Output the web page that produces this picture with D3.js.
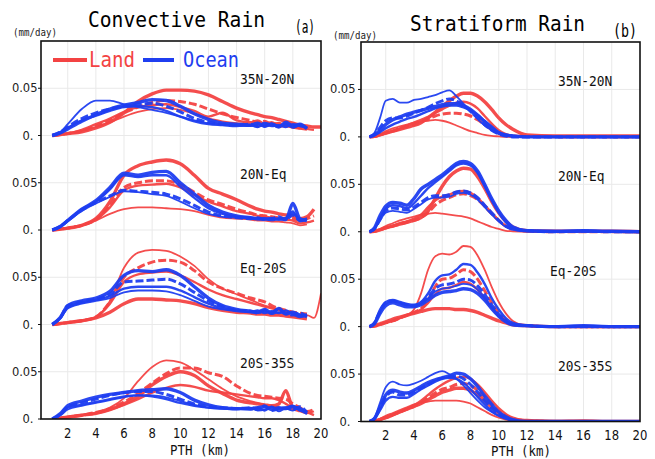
<!DOCTYPE html>
<html><head><meta charset="utf-8">
<script src="https://cdn.jsdelivr.net/npm/d3@7"></script>
<style>body{margin:0;background:#fff}svg{display:block}</style>
</head><body><svg id="c" width="655" height="459"></svg>
<script>
// ---------------- DATA ----------------
const regions = ["35N-20N", "20N-Eq", "Eq-20S", "20S-35S"];
const xTickLabels = [2, 4, 6, 8, 10, 12, 14, 16, 18, 20];
const yTickLabels = ["0.", "0.05"];
const legendLabels = ["Land", "Ocean"];

// PTH grid (km) for convective profiles
const xConv = [0.9,1.5,2,3,4,5,6,7,8,9,10,11,12,13,14,15,15.5,16,16.5,17,17.5,18,18.5,19,19.5,20];
// PTH grid (km) for stratiform profiles
const xStrat = [0.85,1.2,1.6,2,2.5,3,3.5,4,4.5,5,5.5,6,6.5,7,7.5,8,8.5,9,9.5,10,10.5,11,12,14,16,18,20];

// Convective, land
const convLand35N20N = [
 [0,0.001,0.002,0.004,0.008,0.014,0.024,0.036,0.044,0.048,0.048,0.047,0.043,0.036,0.029,0.024,0.022,0.02,0.019,0.017,0.015,0.013,0.011,0.01,0.009,0.009],
 [0,0.001,0.002,0.005,0.01,0.016,0.024,0.03,0.035,0.037,0.036,0.033,0.028,0.023,0.019,0.016,0.014,0.015,0.012,0.013,0.01,0.011,0.008,0.009,null,null],
 [0,0.001,0.002,0.006,0.012,0.018,0.025,0.03,0.032,0.033,0.03,0.026,0.02,0.024,0.016,0.014,0.016,0.012,0.014,0.011,0.012,0.01,0.009,0.007,0.006,null],
 [0,0.001,0.002,0.005,0.009,0.014,0.02,0.025,0.028,0.029,0.027,0.023,0.018,0.015,0.013,0.012,0.011,0.01,0.011,0.009,0.01,0.008,0.007,0.006,null,null]
];
const convLand20NEq = [
 [0,0.001,0.002,0.005,0.012,0.03,0.058,0.068,0.072,0.074,0.07,0.058,0.044,0.038,0.032,0.025,0.022,0.02,0.019,0.017,0.016,0.015,0.012,0.014,0.022,null],
 [0,0.001,0.002,0.005,0.011,0.026,0.045,0.05,0.052,0.052,0.048,0.04,0.032,0.027,0.022,0.018,0.016,0.015,0.014,0.013,0.012,0.012,0.01,0.012,0.015,null],
 [0,0.001,0.002,0.005,0.011,0.024,0.042,0.047,0.048,0.049,0.045,0.037,0.03,0.025,0.02,0.017,0.015,0.014,0.013,0.012,0.011,0.01,0.007,0.008,0.01,null],
 [0,0.001,0.002,0.005,0.01,0.017,0.022,0.024,0.024,0.023,0.022,0.02,0.016,0.013,0.012,0.011,0.01,0.01,0.009,0.009,0.008,0.007,0.005,0.006,null,null]
];
const convLandEq20S = [
 [0,0.001,0.002,0.004,0.007,0.013,0.022,0.027,0.027,0.026,0.025,0.022,0.018,0.015,0.013,0.012,0.011,0.011,0.01,0.01,0.009,0.008,0.007,0.006,null,null],
 [0,0.001,0.002,0.004,0.008,0.024,0.05,0.06,0.066,0.068,0.066,0.057,0.045,0.038,0.033,0.028,0.026,0.024,0.02,0.017,0.015,0.013,0.012,0.011,null,null],
 [0,0.001,0.002,0.004,0.008,0.022,0.045,0.053,0.055,0.056,0.052,0.045,0.037,0.031,0.027,0.023,0.021,0.019,0.017,0.015,0.014,0.012,0.01,0.009,null,null],
 [0,0.001,0.002,0.004,0.008,0.025,0.06,0.076,0.079,0.078,0.072,0.062,0.048,0.038,0.032,0.026,0.023,0.02,0.018,0.016,0.014,0.013,0.01,0.01,0.007,0.033]
];
const convLand20S35S = [
 [0,0.001,0.002,0.004,0.006,0.01,0.016,0.024,0.036,0.045,0.05,0.046,0.035,0.027,0.02,0.017,0.016,0.015,0.014,0.016,0.03,0.012,0.01,0.007,null,null],
 [0,0.001,0.002,0.004,0.007,0.011,0.018,0.027,0.038,0.048,0.054,0.054,0.049,0.045,0.035,0.027,0.025,0.024,0.023,0.022,0.021,0.016,0.012,0.008,0.01,null],
 [0,0.001,0.002,0.004,0.006,0.01,0.015,0.021,0.028,0.033,0.036,0.034,0.03,0.028,0.026,0.024,0.023,0.022,0.022,0.02,0.016,0.012,0.009,0.007,0.004,null],
 [0,0.001,0.002,0.004,0.007,0.012,0.022,0.04,0.055,0.062,0.06,0.052,0.042,0.032,0.024,0.019,0.017,0.015,0.014,0.012,0.011,0.01,0.008,0.006,0.008,null]
];
// Convective, ocean
const convOcean35N20N = [
 [0,0.003,0.007,0.015,0.022,0.028,0.032,0.035,0.038,0.037,0.031,0.023,0.017,0.013,0.012,0.011,0.013,0.01,0.012,0.009,0.014,0.01,0.012,0.007,null,null],
 [0,0.004,0.009,0.018,0.024,0.028,0.031,0.033,0.034,0.031,0.025,0.018,0.014,0.012,0.011,0.012,0.01,0.013,0.011,0.01,0.012,0.009,0.011,0.008,null,null],
 [0,0.003,0.008,0.016,0.021,0.026,0.03,0.031,0.03,0.026,0.02,0.015,0.012,0.011,0.01,0.011,0.009,0.012,0.01,0.011,0.009,0.012,0.01,0.008,null,null],
 [0,0.004,0.012,0.028,0.037,0.037,0.033,0.03,0.027,0.024,0.02,0.016,0.013,0.012,0.011,0.01,0.012,0.009,0.013,0.01,0.012,0.008,0.011,0.009,null,null]
];
const convOcean20NEq = [
 [0,0.004,0.01,0.022,0.031,0.045,0.06,0.058,0.061,0.062,0.05,0.038,0.026,0.019,0.015,0.013,0.012,0.012,0.011,0.012,0.011,0.028,0.012,0.01,null,null],
 [0,0.004,0.01,0.021,0.029,0.036,0.042,0.041,0.04,0.038,0.033,0.026,0.019,0.015,0.013,0.012,0.013,0.011,0.012,0.014,0.011,0.016,0.01,0.012,null,null],
 [0,0.004,0.01,0.022,0.03,0.043,0.058,0.056,0.058,0.058,0.046,0.034,0.023,0.017,0.014,0.013,0.012,0.011,0.012,0.011,0.013,0.018,0.011,0.012,null,null],
 [0,0.004,0.009,0.02,0.028,0.035,0.041,0.04,0.038,0.036,0.03,0.023,0.017,0.014,0.013,0.012,0.011,0.012,0.013,0.011,0.012,0.02,0.009,0.011,null,null]
];
const convOceanEq20S = [
 [0,0.008,0.02,0.025,0.028,0.035,0.052,0.057,0.056,0.058,0.052,0.04,0.028,0.02,0.016,0.014,0.013,0.016,0.012,0.017,0.011,0.013,0.01,0.009,null,null],
 [0,0.008,0.02,0.024,0.027,0.032,0.045,0.046,0.047,0.048,0.043,0.034,0.025,0.019,0.015,0.014,0.012,0.015,0.013,0.016,0.012,0.01,0.012,0.008,null,null],
 [0,0.007,0.018,0.023,0.026,0.03,0.038,0.04,0.04,0.04,0.036,0.029,0.022,0.017,0.015,0.013,0.015,0.012,0.014,0.012,0.015,0.011,0.008,0.01,null,null],
 [0,0.007,0.017,0.022,0.025,0.028,0.034,0.036,0.036,0.035,0.031,0.025,0.019,0.016,0.014,0.013,0.012,0.014,0.011,0.013,0.011,0.012,0.01,0.011,null,null]
];
const convOcean20S35S = [
 [0,0.006,0.014,0.019,0.023,0.026,0.028,0.03,0.031,0.032,0.028,0.02,0.015,0.012,0.011,0.011,0.012,0.013,0.01,0.012,0.011,0.013,0.01,0.006,null,null],
 [0,0.005,0.013,0.017,0.021,0.025,0.028,0.029,0.029,0.026,0.021,0.016,0.013,0.012,0.011,0.012,0.01,0.014,0.009,0.011,0.012,0.01,0.013,0.007,null,null],
 [0,0.005,0.012,0.015,0.018,0.021,0.024,0.025,0.024,0.021,0.017,0.014,0.012,0.011,0.011,0.01,0.012,0.009,0.013,0.01,0.012,0.014,0.009,0.008,null,null],
 [0,0.004,0.01,0.014,0.017,0.02,0.023,0.025,0.025,0.023,0.019,0.015,0.012,0.011,0.01,0.012,0.009,0.01,0.013,0.008,0.011,0.009,0.012,0.005,null,null]
];
// Stratiform, land
const stratLand35N20N = [
 [0,0.0005,0.002,0.004,0.006,0.008,0.01,0.012,0.015,0.02,0.026,0.032,0.038,0.043,0.046,0.046,0.043,0.037,0.029,0.02,0.013,0.008,0.002,0.001,0.001,0.001,0.001],
 [0,0.0005,0.002,0.004,0.006,0.009,0.011,0.013,0.016,0.019,0.022,0.024,0.025,0.025,0.024,0.022,0.018,0.013,0.008,0.004,0.002,0.001,0.0005,0,0,0,0],
 [0,0.0005,0.002,0.004,0.006,0.009,0.012,0.015,0.018,0.021,0.025,0.029,0.033,0.036,0.037,0.035,0.03,0.022,0.014,0.007,0.003,0.001,0.0005,0,0,0,0],
 [0,0.001,0.003,0.006,0.009,0.011,0.013,0.015,0.016,0.017,0.018,0.017,0.015,0.012,0.009,0.006,0.004,0.002,0.001,0.0005,0,0,0,0,0,0,0]
];
const stratLand20NEq = [
 [0,0.0005,0.002,0.004,0.006,0.008,0.01,0.012,0.015,0.022,0.035,0.048,0.058,0.064,0.067,0.066,0.058,0.046,0.032,0.02,0.011,0.005,0.001,0.0005,0.0005,0.0005,0],
 [0,0.0005,0.002,0.004,0.006,0.008,0.01,0.012,0.015,0.02,0.028,0.033,0.036,0.039,0.04,0.038,0.034,0.027,0.019,0.012,0.006,0.003,0.001,0,0,0,0],
 [0,0.0005,0.002,0.004,0.006,0.009,0.011,0.014,0.018,0.026,0.033,0.037,0.039,0.042,0.043,0.041,0.036,0.028,0.02,0.012,0.006,0.003,0.001,0,0,0,0],
 [0,0.001,0.003,0.006,0.009,0.012,0.014,0.016,0.018,0.019,0.02,0.019,0.018,0.017,0.016,0.014,0.011,0.008,0.005,0.003,0.001,0.0005,0,0,0,0,0]
];
const stratLandEq20S = [
 [0,0.001,0.003,0.005,0.008,0.01,0.012,0.014,0.016,0.018,0.019,0.019,0.019,0.018,0.018,0.017,0.015,0.012,0.009,0.006,0.004,0.002,0.001,0,0,0,0],
 [0,0.0005,0.002,0.004,0.006,0.009,0.012,0.015,0.019,0.028,0.042,0.05,0.051,0.055,0.06,0.058,0.05,0.038,0.025,0.014,0.007,0.003,0.001,0,0,0,0],
 [0,0.0005,0.002,0.004,0.006,0.009,0.012,0.015,0.018,0.025,0.034,0.04,0.041,0.044,0.047,0.045,0.039,0.03,0.02,0.011,0.006,0.002,0.001,0,0,0,0],
 [0,0.0005,0.002,0.004,0.006,0.009,0.012,0.018,0.035,0.06,0.074,0.077,0.076,0.079,0.085,0.084,0.075,0.06,0.042,0.026,0.014,0.006,0.001,0,0.001,0,0]
];
const stratLand20S35S = [
 [0,0.0005,0.002,0.004,0.007,0.01,0.013,0.016,0.019,0.023,0.027,0.031,0.033,0.035,0.035,0.033,0.028,0.022,0.015,0.009,0.005,0.002,0.001,0,0,0,0],
 [0,0.0005,0.002,0.004,0.007,0.01,0.013,0.016,0.02,0.025,0.03,0.034,0.036,0.039,0.04,0.038,0.033,0.026,0.018,0.011,0.006,0.003,0.001,0,0,0,0],
 [0,0.0005,0.002,0.004,0.007,0.01,0.013,0.017,0.022,0.028,0.034,0.039,0.043,0.046,0.047,0.045,0.039,0.031,0.022,0.014,0.008,0.004,0.001,0.0005,0.001,0,0],
 [0,0.001,0.003,0.006,0.009,0.012,0.015,0.018,0.02,0.021,0.022,0.022,0.022,0.022,0.021,0.019,0.015,0.011,0.007,0.004,0.002,0.001,0,0,0,0,0]
];
// Stratiform, ocean
const stratOcean35N20N = [
 [0,0.002,0.007,0.013,0.018,0.021,0.024,0.026,0.028,0.03,0.032,0.034,0.035,0.035,0.033,0.029,0.023,0.016,0.009,0.004,0.002,0.001,0,0,0,0,0],
 [0,0.003,0.01,0.017,0.02,0.02,0.022,0.025,0.028,0.031,0.035,0.038,0.04,0.038,0.033,0.027,0.02,0.013,0.007,0.003,0.001,0,0,0,0,0,0],
 [0,0.002,0.005,0.009,0.013,0.016,0.019,0.021,0.024,0.027,0.03,0.032,0.033,0.033,0.031,0.028,0.023,0.017,0.011,0.005,0.002,0.001,0,0,0,0,0],
 [0,0.004,0.02,0.038,0.04,0.036,0.036,0.039,0.04,0.042,0.044,0.047,0.049,0.043,0.035,0.027,0.019,0.012,0.007,0.003,0.001,0.0005,0,0,0,0,0]
];
const stratOcean20NEq = [
 [0,0.004,0.017,0.027,0.031,0.03,0.028,0.035,0.045,0.05,0.055,0.06,0.066,0.072,0.074,0.072,0.064,0.05,0.035,0.022,0.012,0.005,0.001,0.0005,0.001,0.0005,0],
 [0,0.003,0.013,0.022,0.025,0.024,0.023,0.026,0.031,0.036,0.038,0.038,0.039,0.042,0.043,0.041,0.036,0.028,0.02,0.012,0.006,0.003,0.001,0,0.0005,0,0],
 [0,0.003,0.014,0.024,0.028,0.027,0.025,0.03,0.038,0.046,0.052,0.058,0.064,0.07,0.072,0.07,0.062,0.048,0.033,0.02,0.01,0.004,0.001,0,0.001,0,0],
 [0,0.003,0.012,0.02,0.022,0.021,0.02,0.024,0.029,0.034,0.036,0.036,0.037,0.04,0.041,0.039,0.034,0.026,0.018,0.011,0.005,0.002,0.001,0,0,0,0]
];
const stratOceanEq20S = [
 [0,0.003,0.014,0.022,0.025,0.023,0.021,0.021,0.023,0.028,0.033,0.036,0.037,0.038,0.04,0.039,0.035,0.028,0.019,0.011,0.005,0.002,0.001,0,0.001,0,0],
 [0,0.004,0.016,0.025,0.027,0.025,0.023,0.022,0.025,0.031,0.04,0.044,0.045,0.047,0.05,0.049,0.043,0.034,0.023,0.013,0.006,0.002,0.001,0,0,0,0],
 [0,0.004,0.018,0.026,0.028,0.026,0.024,0.023,0.026,0.035,0.048,0.054,0.055,0.06,0.066,0.065,0.057,0.045,0.03,0.018,0.009,0.004,0.001,0,0,0,0],
 [0,0.004,0.016,0.024,0.027,0.025,0.023,0.022,0.024,0.03,0.037,0.04,0.041,0.043,0.045,0.044,0.039,0.031,0.021,0.012,0.006,0.002,0.001,0,0,0,0]
];
const stratOcean20S35S = [
 [0,0.003,0.015,0.028,0.033,0.031,0.03,0.033,0.037,0.041,0.044,0.046,0.048,0.051,0.05,0.045,0.037,0.027,0.018,0.01,0.005,0.002,0,0,0,0,0],
 [0,0.003,0.014,0.026,0.031,0.028,0.028,0.031,0.035,0.039,0.043,0.046,0.047,0.048,0.045,0.039,0.031,0.022,0.014,0.008,0.004,0.001,0,0,0,0,0],
 [0,0.003,0.012,0.022,0.026,0.025,0.025,0.029,0.034,0.038,0.042,0.045,0.046,0.045,0.041,0.034,0.026,0.018,0.011,0.006,0.003,0.001,0,0,0,0,0],
 [0,0.004,0.02,0.036,0.042,0.039,0.038,0.04,0.043,0.047,0.051,0.053,0.05,0.045,0.038,0.03,0.022,0.015,0.01,0.006,0.003,0.001,0,0,0,0,0]
];

// ---------------- STYLE / LAYOUT ----------------
const landColor = "#f34343";
const oceanColor = "#1f3ef0";
const lineStyles = [
  {w: 3.4, dash: null},
  {w: 3.0, dash: "8,3"},
  {w: 2.4, dash: null},
  {w: 1.8, dash: null}
];
const bandOffsets = [0.3, 0.2, 0.1, 0.0];

const panels = [
  { id: "a", title: "Convective Rain", titleX: 88, titleY: 27, titleLen: 177,
    tag: "(a)", tagX: 295, tagY: 33, tagLen: 20,
    unitX: 13, unitY: 36,
    x0: 41, x1: 321, y0: 41, y1: 419, xDom: [0.1, 20], xs: xConv,
    land: [convLand35N20N, convLand20NEq, convLandEq20S, convLand20S35S],
    ocean: [convOcean35N20N, convOcean20NEq, convOceanEq20S, convOcean20S35S],
    regX: [240, 240, 240, 240], regDy: 51.5,
    lab005: 37.5, lab0: 33.5, xLabY: 438.3, pthX: 170, pthY: 454.5, legend: true },
  { id: "b", title: "Stratiform Rain", titleX: 410, titleY: 31, titleLen: 175,
    tag: "(b)", tagX: 613, tagY: 37, tagLen: 24,
    unitX: 333, unitY: 39,
    x0: 361, x1: 640, y0: 42, y1: 421.5, xDom: [0.25, 20], xs: xStrat,
    land: [stratLand35N20N, stratLand20NEq, stratLandEq20S, stratLand20S35S],
    ocean: [stratOcean35N20N, stratOcean20NEq, stratOceanEq20S, stratOcean20S35S],
    regX: [558, 558, 550, 558], regDy: 50.5,
    lab005: 355.5, lab0: 350.5, xLabY: 439.5, pthX: 491, pthY: 455.5, legend: false }
];

const svg = d3.select("#c");
const mono = "'DejaVu Sans Mono', monospace";
const sans = "'DejaVu Sans', sans-serif";

panels.forEach(p => {
  const x = d3.scaleLinear().domain(p.xDom).range([p.x0, p.x1]);
  const y = d3.scaleLinear().domain([0, 0.4]).range([p.y1, p.y0]);
  const g = svg.append("g");

  // grid
  const gridX = d3.range(2, 20, 2);
  const gridY = d3.range(0.05, 0.4, 0.05);
  g.selectAll(".gx").data(gridX).join("line")
    .attr("x1", d => x(d)).attr("x2", d => x(d)).attr("y1", p.y0).attr("y2", p.y1)
    .attr("stroke", "#e9e9e9").attr("stroke-width", 1);
  g.selectAll(".gy").data(gridY).join("line")
    .attr("x1", p.x0).attr("x2", p.x1).attr("y1", d => y(d)).attr("y2", d => y(d))
    .attr("stroke", "#e9e9e9").attr("stroke-width", 1);

  // clip
  svg.append("clipPath").attr("id", "clip" + p.id).append("rect")
    .attr("x", p.x0).attr("y", p.y0).attr("width", p.x1 - p.x0).attr("height", p.y1 - p.y0);
  const lg = g.append("g").attr("clip-path", `url(#clip${p.id})`);

  [[p.land, landColor], [p.ocean, oceanColor]].forEach(([sets, color]) => {
    sets.forEach((band, bi) => {
      const off = bandOffsets[bi];
      const line = d3.line()
        .defined(d => d[1] !== null)
        .x(d => x(d[0])).y(d => y(d[1] + off))
        .curve(d3.curveMonotoneX);
      band.forEach((series, si) => {
        const pts = p.xs.map((xv, i) => [xv, series[i]]);
        const st = lineStyles[si];
        lg.append("path").attr("d", line(pts))
          .attr("fill", "none").attr("stroke", color)
          .attr("stroke-width", st.w)
          .attr("stroke-dasharray", st.dash)
          .attr("stroke-linejoin", "round").attr("stroke-linecap", "butt")
          .attr("opacity", 0.95);
      });
    });
  });

  // frame
  g.append("rect").attr("x", p.x0).attr("y", p.y0)
    .attr("width", p.x1 - p.x0).attr("height", p.y1 - p.y0)
    .attr("fill", "none").attr("stroke", "#111").attr("stroke-width", 1.6);

  // y ticks and labels
  bandOffsets.forEach(off => {
    [0, 0.05].forEach((v, k) => {
      const yy = y(v + off);
      g.append("line").attr("x1", p.x0 - 3).attr("x2", p.x0).attr("y1", yy).attr("y2", yy)
        .attr("stroke", "#111").attr("stroke-width", 1);
      g.append("text").text(yTickLabels[k])
        .attr("x", k === 0 ? p.lab0 : p.lab005).attr("y", yy + 4)
        .attr("text-anchor", "end").attr("font-family", sans).attr("font-size", 11.5)
        .attr("fill", "#222");
    });
  });

  // region labels
  regions.forEach((r, bi) => {
    g.append("text").text(r)
      .attr("x", p.regX[bi]).attr("y", y(bandOffsets[bi]) - p.regDy)
      .attr("font-family", mono).attr("font-size", 13.5)
      .attr("textLength", r.length * 7.75).attr("lengthAdjust", "spacingAndGlyphs")
      .attr("fill", "#111");
  });

  // x tick labels
  xTickLabels.forEach(v => {
    const s = String(v);
    g.append("text").text(s)
      .attr("x", x(v)).attr("y", p.xLabY).attr("text-anchor", "middle")
      .attr("font-family", sans).attr("font-size", 14)
      .attr("textLength", s.length * 7.4).attr("lengthAdjust", "spacingAndGlyphs")
      .attr("fill", "#111");
  });
  g.append("text").text("PTH (km)")
    .attr("x", p.pthX).attr("y", p.pthY)
    .attr("font-family", mono).attr("font-size", 14.5)
    .attr("textLength", 60).attr("lengthAdjust", "spacingAndGlyphs").attr("fill", "#111");

  // titles
  g.append("text").text(p.title).attr("x", p.titleX).attr("y", p.titleY)
    .attr("font-family", mono).attr("font-size", 21)
    .attr("textLength", p.titleLen).attr("lengthAdjust", "spacingAndGlyphs").attr("fill", "#000");
  g.append("text").text(p.tag).attr("x", p.tagX).attr("y", p.tagY)
    .attr("font-family", mono).attr("font-size", 17)
    .attr("textLength", p.tagLen).attr("lengthAdjust", "spacingAndGlyphs").attr("fill", "#000");
  g.append("text").text("(mm/day)").attr("x", p.unitX).attr("y", p.unitY)
    .attr("font-family", mono).attr("font-size", 10)
    .attr("textLength", 44).attr("lengthAdjust", "spacingAndGlyphs").attr("fill", "#222");

  // legend
  if (p.legend) {
    const items = [
      {label: legendLabels[0], color: landColor, lx1: 53, lx2: 87, tx: 89, len: 46},
      {label: legendLabels[1], color: oceanColor, lx1: 143, lx2: 174, tx: 183, len: 56}
    ];
    items.forEach(it => {
      g.append("line").attr("x1", it.lx1).attr("x2", it.lx2).attr("y1", 60).attr("y2", 60)
        .attr("stroke", it.color).attr("stroke-width", 4);
      g.append("text").text(it.label).attr("x", it.tx).attr("y", 67)
        .attr("font-family", mono).attr("font-size", 21)
        .attr("textLength", it.len).attr("lengthAdjust", "spacingAndGlyphs")
        .attr("fill", it.color);
    });
  }
});
</script>
</body></html>
